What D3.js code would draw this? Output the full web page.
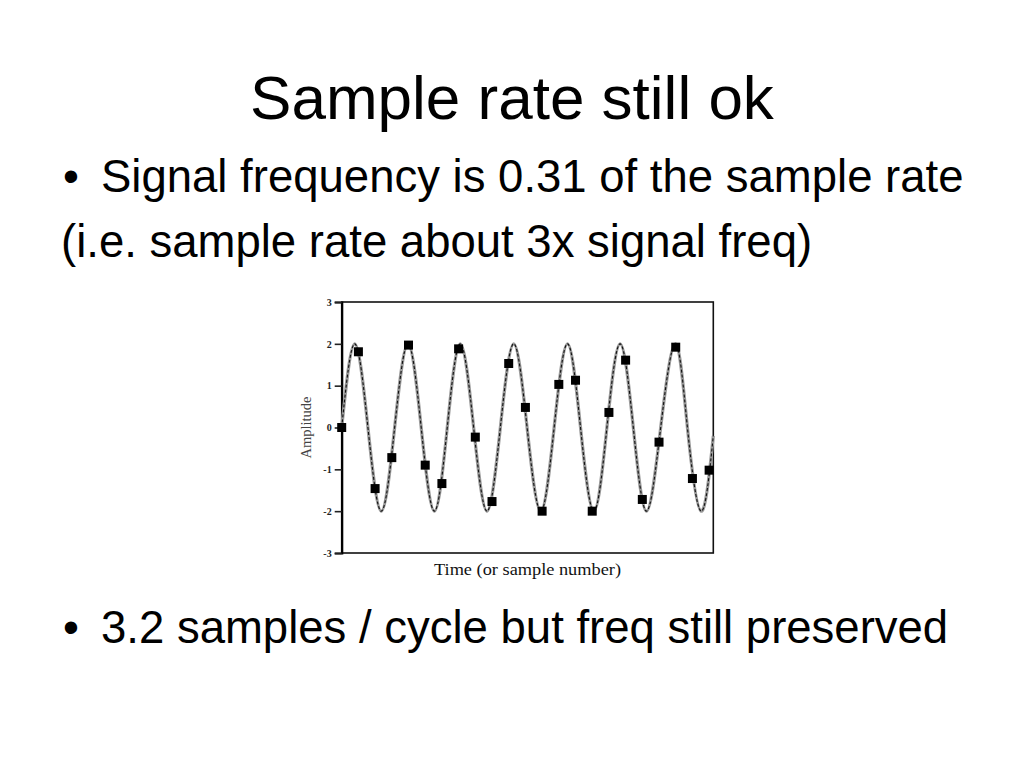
<!DOCTYPE html>
<html>
<head>
<meta charset="utf-8">
<script src="https://cdn.jsdelivr.net/npm/d3@7"></script>
<style>
  html, body { margin: 0; padding: 0; background: #fff; }
  svg { display: block; }
</style>
</head>
<body>
<div id="slide"></div>
<script>
(function(){
  // Slide texts.
  const titleText = 'Sample rate still ok';
  const bulletLines = [
    {bullet: true,  text: 'Signal frequency is 0.31 of the sample rate'},
    {bullet: false, text: '(i.e. sample rate about 3x signal freq)'},
    {bullet: true,  text: '3.2 samples / cycle but freq still preserved'}
  ];

  const sampleValues = [0, 1.81, -1.46, -0.72, 1.97, -0.9, -1.34, 1.88, -0.23, -1.77,
    1.53, 0.48, -2.0, 1.03, 1.13, -2.0, 0.36, 1.61, -1.72, -0.35, 1.92, -1.22, -1.02];

  // Continuous signal: peaks, troughs and zero crossings.
  const signalTimes = [0, 0.78, 1.57, 2.37, 3.17, 3.97, 4.76, 5.55, 6.32, 7.1, 7.9, 8.7,
    9.5, 10.3, 11.1, 11.92, 12.72, 13.52, 14.3, 15.1, 15.88, 16.67, 17.46, 18.25,
    19.1, 19.98, 20.7, 21.52, 22.25];
  const signalValues = [0, 2, 0, -2, 0, 2, 0, -2, 0, 2, 0, -2,
    0, 2, 0, -2, 0, 2, 0, -2, 0, 2, 0, -2,
    0, 2, 0, -2, -0.2];

  const yTicks = [-3, -2, -1, 0, 1, 2, 3];
  const timeDomain = [0, 22.25];
  const xLabel = 'Time (or sample number)';
  const yLabel = 'Amplitude';

  const W = 1024, H = 768;
  const svg = d3.select('#slide').append('svg').attr('width', W).attr('height', H);
  svg.append('rect').attr('width', W).attr('height', H).attr('fill', '#fff');

  const sans = '"Liberation Sans", Arial, Helvetica, sans-serif';
  const serif = '"Liberation Serif", "Times New Roman", serif';

  // Title and bullet text.
  svg.append('text')
    .attr('x', 512).attr('y', 119)
    .attr('text-anchor', 'middle')
    .attr('font-family', sans).attr('font-size', 62)
    .attr('fill', '#000')
    .text(titleText);

  const lineY = [192, 257, 643];
  bulletLines.forEach((d, i) => {
    if(d.bullet){
      svg.append('text')
        .attr('x', 63).attr('y', lineY[i])
        .attr('font-family', sans).attr('font-size', 45.5)
        .text('\u2022');
    }
    svg.append('text')
      .attr('x', d.bullet ? 101 : 61).attr('y', lineY[i])
      .attr('font-family', sans).attr('font-size', 45.5)
      .attr('fill', '#000')
      .text(d.text);
  });

  // Figure area.
  const plot = {left: 341.7, right: 713.3, top: 302, bottom: 553};
  const x = d3.scaleLinear().domain(timeDomain).range([plot.left, plot.right]);
  const y = d3.scaleLinear().domain([-3, 3]).range([plot.bottom, plot.top]);

  const fig = svg.append('g');

  // Frame around the plot.
  fig.append('rect')
    .attr('x', plot.left).attr('y', plot.top)
    .attr('width', plot.right - plot.left).attr('height', plot.bottom - plot.top)
    .attr('fill', 'none').attr('stroke', '#111').attr('stroke-width', 1.6);

  const yAxis = d3.axisLeft(y)
    .tickValues(yTicks)
    .tickSize(7)
    .tickPadding(3)
    .tickFormat(d => String(d));

  const yAxisG = fig.append('g')
    .attr('transform', `translate(${plot.left},0)`)
    .call(yAxis);
  yAxisG.select('.domain').attr('stroke', '#000').attr('stroke-width', 2.2);
  yAxisG.selectAll('.tick line').attr('stroke', '#222').attr('stroke-width', 1.6);
  yAxisG.selectAll('.tick text')
    .attr('font-family', serif).attr('font-size', 10).attr('font-weight', 'bold')
    .attr('fill', '#222');

  // Signal curve: gray body with a dark core, like the scanned figure.
  const line = d3.line()
    .x((d, i) => x(signalTimes[i]))
    .y(d => y(d))
    .curve(d3.curveNatural);

  fig.append('path')
    .attr('d', line(signalValues))
    .attr('fill', 'none').attr('stroke', '#9a9a9a').attr('stroke-width', 3.2);
  fig.append('path')
    .attr('d', line(signalValues))
    .attr('fill', 'none').attr('stroke', '#111').attr('stroke-width', 1.1)
    .attr('stroke-dasharray', '3,2');

  // Sample markers.
  const box = 9;
  fig.selectAll('rect.sample')
    .data(sampleValues)
    .join('rect')
    .attr('class', 'sample')
    .attr('x', (d, i) => x(i) - box / 2)
    .attr('y', d => y(d) - box / 2)
    .attr('width', box).attr('height', box)
    .attr('fill', '#000');

  // Axis titles.
  fig.append('text')
    .attr('x', (plot.left + plot.right) / 2 + 0).attr('y', 575)
    .attr('text-anchor', 'middle')
    .attr('font-family', serif).attr('font-size', 16)
    .attr('textLength', 187).attr('lengthAdjust', 'spacingAndGlyphs')
    .attr('fill', '#111')
    .text(xLabel);

  fig.append('text')
    .attr('transform', `translate(311,${y(0)}) rotate(-90)`)
    .attr('text-anchor', 'middle')
    .attr('font-family', serif).attr('font-size', 14.5)
    .attr('fill', '#444')
    .text(yLabel);
})();
</script>
</body>
</html>
